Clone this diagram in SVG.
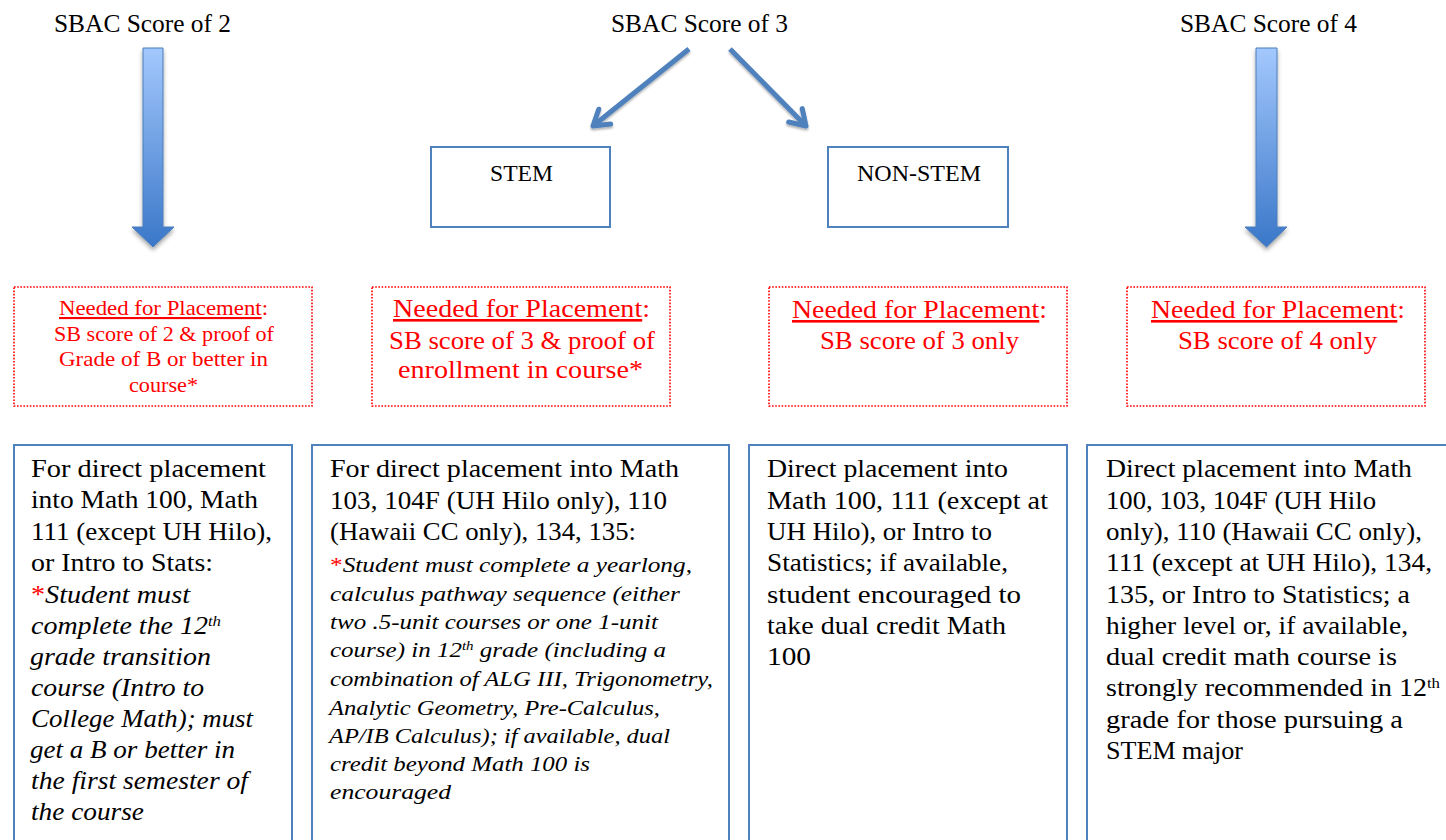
<svg xmlns="http://www.w3.org/2000/svg" width="1446" height="840" viewBox="0 0 1446 840">
<defs>
<style>
.t{font-family:"Liberation Serif","Times New Roman",serif;fill:#000}
.title{font-size:25px}
.lbl{font-size:24px}
.red{fill:#ff0000}
.rb1{font-size:21px}
.rb{font-size:26px}
.body{font-size:26px}
.it{font-style:italic}
.it2{font-size:22px;font-style:italic}
.u{text-decoration:underline}
.sup{font-size:60%;baseline-shift:super}
.blue{fill:#fff;stroke:#4f81bd;stroke-width:2}
.dot{fill:#fff;stroke:#ff0000;stroke-width:1.6;stroke-dasharray:1.6 1.6}
.ln{fill:none;stroke:#4f81bd;stroke-width:5;marker-end:url(#ah);filter:url(#sh)}
.big{fill:url(#g);stroke:#4a7ebb;stroke-width:1;filter:url(#sh2)}
</style>
<linearGradient id="g" x1="0" y1="0" x2="0" y2="1">
<stop offset="0" stop-color="#a3c8fd"/>
<stop offset="1" stop-color="#3a77c8"/>
</linearGradient>
<marker id="ah" markerUnits="userSpaceOnUse" viewBox="-20 -14 24 28" refX="0" refY="0" markerWidth="24" markerHeight="28" orient="auto">
<path d="M-15,-9.5 L0,0 L-15,9.5" fill="none" stroke="#4f81bd" stroke-width="5" stroke-linecap="round" stroke-linejoin="round"/>
</marker>
<filter id="sh" x="-50%" y="-50%" width="200%" height="200%">
<feDropShadow dx="0" dy="2" stdDeviation="1.2" flood-color="#000" flood-opacity="0.3"/>
</filter>
<filter id="sh2" x="-50%" y="-20%" width="200%" height="140%">
<feDropShadow dx="0" dy="3" stdDeviation="2" flood-color="#000" flood-opacity="0.35"/>
</filter>
</defs>
<rect width="1446" height="840" fill="#fff"/>

<g id="title2"><text class="t title" x="54" y="32" textLength="177" lengthAdjust="spacingAndGlyphs">SBAC Score of 2</text></g>
<g id="title3"><text class="t title" x="611" y="32" textLength="177" lengthAdjust="spacingAndGlyphs">SBAC Score of 3</text></g>
<g id="title4"><text class="t title" x="1180" y="32" textLength="177" lengthAdjust="spacingAndGlyphs">SBAC Score of 4</text></g>

<g id="connectors">
<path class="big" d="M143,48 H163 V227 H174 L153,247 L132,227 H143 Z"/>
<path class="big" d="M1256,48 H1277 V227 H1287 L1266.5,247 L1245,227 H1256 Z"/>
<line class="ln" x1="689" y1="49" x2="593" y2="126"/>
<line class="ln" x1="730" y1="49" x2="806" y2="126"/>
<line class="ln" x1="511" y1="228" x2="511" y2="285"/>
<line class="ln" x1="908" y1="228" x2="908" y2="285"/>
<line class="ln" x1="153" y1="407" x2="153" y2="442"/>
<line class="ln" x1="511" y1="407" x2="511" y2="442"/>
<line class="ln" x1="908" y1="407" x2="908" y2="442"/>
<line class="ln" x1="1266" y1="407" x2="1266" y2="442"/>
</g>

<g id="stem">
<rect class="blue" x="431" y="147" width="179" height="80"/>
<text class="t lbl" x="490" y="181" textLength="63" lengthAdjust="spacingAndGlyphs">STEM</text>
</g>
<g id="nonstem">
<rect class="blue" x="828" y="147" width="180" height="80"/>
<text class="t lbl" x="857" y="181" textLength="124" lengthAdjust="spacingAndGlyphs">NON-STEM</text>
</g>

<g id="need2">
<rect class="dot" x="14" y="287" width="298" height="119"/>
<text class="t red rb1" x="59" y="315" textLength="209" lengthAdjust="spacingAndGlyphs"><tspan class="u">Needed for Placement</tspan>:</text>
<text class="t red rb1" x="54" y="341" textLength="220" lengthAdjust="spacingAndGlyphs">SB score of 2 &amp; proof of</text>
<text class="t red rb1" x="59" y="366" textLength="209" lengthAdjust="spacingAndGlyphs">Grade of B or better in</text>
<text class="t red rb1" x="129" y="392" textLength="69" lengthAdjust="spacingAndGlyphs">course*</text>
</g>
<g id="need3stem">
<rect class="dot" x="372" y="287" width="298" height="119"/>
<text class="t red rb" x="393" y="317" textLength="257" lengthAdjust="spacingAndGlyphs"><tspan class="u">Needed for Placement</tspan>:</text>
<text class="t red rb" x="389" y="349" textLength="266" lengthAdjust="spacingAndGlyphs">SB score of 3 &amp; proof of</text>
<text class="t red rb" x="398" y="378" textLength="245" lengthAdjust="spacingAndGlyphs">enrollment in course*</text>
</g>
<g id="need3non">
<rect class="dot" x="769" y="287" width="298" height="119"/>
<text class="t red rb" x="792" y="318" textLength="255" lengthAdjust="spacingAndGlyphs"><tspan class="u">Needed for Placement</tspan>:</text>
<text class="t red rb" x="820" y="349" textLength="199" lengthAdjust="spacingAndGlyphs">SB score of 3 only</text>
</g>
<g id="need4">
<rect class="dot" x="1127" y="287" width="298" height="119"/>
<text class="t red rb" x="1151" y="318" textLength="254" lengthAdjust="spacingAndGlyphs"><tspan class="u">Needed for Placement</tspan>:</text>
<text class="t red rb" x="1178" y="349" textLength="199" lengthAdjust="spacingAndGlyphs">SB score of 4 only</text>
</g>

<g id="place2">
<rect class="blue" x="14" y="445" width="278" height="410"/>
<text class="t body" x="31" y="477" textLength="235" lengthAdjust="spacingAndGlyphs">For direct placement</text>
<text class="t body" x="31" y="508" textLength="227" lengthAdjust="spacingAndGlyphs">into Math 100, Math</text>
<text class="t body" x="31" y="540" textLength="241" lengthAdjust="spacingAndGlyphs">111 (except UH Hilo),</text>
<text class="t body" x="31" y="571" textLength="182" lengthAdjust="spacingAndGlyphs">or Intro to Stats:</text>
<text class="t body it" x="31" y="603" textLength="159" lengthAdjust="spacingAndGlyphs"><tspan class="red" font-style="normal">*</tspan>Student must</text>
<text class="t body it" x="31" y="634" textLength="190" lengthAdjust="spacingAndGlyphs">complete the 12<tspan class="sup">th</tspan></text>
<text class="t body it" x="30" y="665" textLength="181" lengthAdjust="spacingAndGlyphs">grade transition</text>
<text class="t body it" x="31" y="696" textLength="173" lengthAdjust="spacingAndGlyphs">course (Intro to</text>
<text class="t body it" x="31" y="727" textLength="222" lengthAdjust="spacingAndGlyphs">College Math); must</text>
<text class="t body it" x="30" y="758" textLength="205" lengthAdjust="spacingAndGlyphs">get a B or better in</text>
<text class="t body it" x="31" y="789" textLength="217" lengthAdjust="spacingAndGlyphs">the first semester of</text>
<text class="t body it" x="31" y="820" textLength="113" lengthAdjust="spacingAndGlyphs">the course</text>
</g>

<g id="place3stem">
<rect class="blue" x="312" y="445" width="417" height="410"/>
<text class="t body" x="330" y="477" textLength="349" lengthAdjust="spacingAndGlyphs">For direct placement into Math</text>
<text class="t body" x="330" y="509" textLength="337" lengthAdjust="spacingAndGlyphs">103, 104F (UH Hilo only), 110</text>
<text class="t body" x="330" y="540" textLength="306" lengthAdjust="spacingAndGlyphs">(Hawaii CC only), 134, 135:</text>
<text class="t it2" x="330" y="572" textLength="362" lengthAdjust="spacingAndGlyphs"><tspan class="red" font-style="normal">*</tspan>Student must complete a yearlong,</text>
<text class="t it2" x="330" y="601" textLength="350" lengthAdjust="spacingAndGlyphs">calculus pathway sequence (either</text>
<text class="t it2" x="330" y="629" textLength="328" lengthAdjust="spacingAndGlyphs">two .5-unit courses or one 1-unit</text>
<text class="t it2" x="330" y="657" textLength="336" lengthAdjust="spacingAndGlyphs">course) in 12<tspan class="sup">th</tspan> grade (including a</text>
<text class="t it2" x="330" y="686" textLength="383" lengthAdjust="spacingAndGlyphs">combination of ALG III, Trigonometry,</text>
<text class="t it2" x="329" y="715" textLength="331" lengthAdjust="spacingAndGlyphs">Analytic Geometry, Pre-Calculus,</text>
<text class="t it2" x="329" y="743" textLength="341" lengthAdjust="spacingAndGlyphs">AP/IB Calculus); if available, dual</text>
<text class="t it2" x="330" y="771" textLength="260" lengthAdjust="spacingAndGlyphs">credit beyond Math 100 is</text>
<text class="t it2" x="330" y="799" textLength="121" lengthAdjust="spacingAndGlyphs">encouraged</text>
</g>

<g id="place3non">
<rect class="blue" x="749" y="445" width="318" height="410"/>
<text class="t body" x="767" y="477" textLength="241" lengthAdjust="spacingAndGlyphs">Direct placement into</text>
<text class="t body" x="767" y="509" textLength="281" lengthAdjust="spacingAndGlyphs">Math 100, 111 (except at</text>
<text class="t body" x="767" y="540" textLength="225" lengthAdjust="spacingAndGlyphs">UH Hilo), or Intro to</text>
<text class="t body" x="767" y="571" textLength="241" lengthAdjust="spacingAndGlyphs">Statistics; if available,</text>
<text class="t body" x="767" y="603" textLength="254" lengthAdjust="spacingAndGlyphs">student encouraged to</text>
<text class="t body" x="767" y="634" textLength="239" lengthAdjust="spacingAndGlyphs">take dual credit Math</text>
<text class="t body" x="767" y="665" textLength="44" lengthAdjust="spacingAndGlyphs">100</text>
</g>

<g id="place4">
<rect class="blue" x="1087" y="445" width="380" height="410"/>
<text class="t body" x="1106" y="477" textLength="306" lengthAdjust="spacingAndGlyphs">Direct placement into Math</text>
<text class="t body" x="1106" y="509" textLength="270" lengthAdjust="spacingAndGlyphs">100, 103, 104F (UH Hilo</text>
<text class="t body" x="1106" y="540" textLength="316" lengthAdjust="spacingAndGlyphs">only), 110 (Hawaii CC only),</text>
<text class="t body" x="1106" y="571" textLength="326" lengthAdjust="spacingAndGlyphs">111 (except at UH Hilo), 134,</text>
<text class="t body" x="1106" y="603" textLength="304" lengthAdjust="spacingAndGlyphs">135, or Intro to Statistics; a</text>
<text class="t body" x="1106" y="634" textLength="302" lengthAdjust="spacingAndGlyphs">higher level or, if available,</text>
<text class="t body" x="1106" y="665" textLength="291" lengthAdjust="spacingAndGlyphs">dual credit math course is</text>
<text class="t body" x="1106" y="696" textLength="334" lengthAdjust="spacingAndGlyphs">strongly recommended in 12<tspan class="sup">th</tspan></text>
<text class="t body" x="1106" y="728" textLength="297" lengthAdjust="spacingAndGlyphs">grade for those pursuing a</text>
<text class="t body" x="1106" y="759" textLength="137" lengthAdjust="spacingAndGlyphs">STEM major</text>
</g>
</svg>
